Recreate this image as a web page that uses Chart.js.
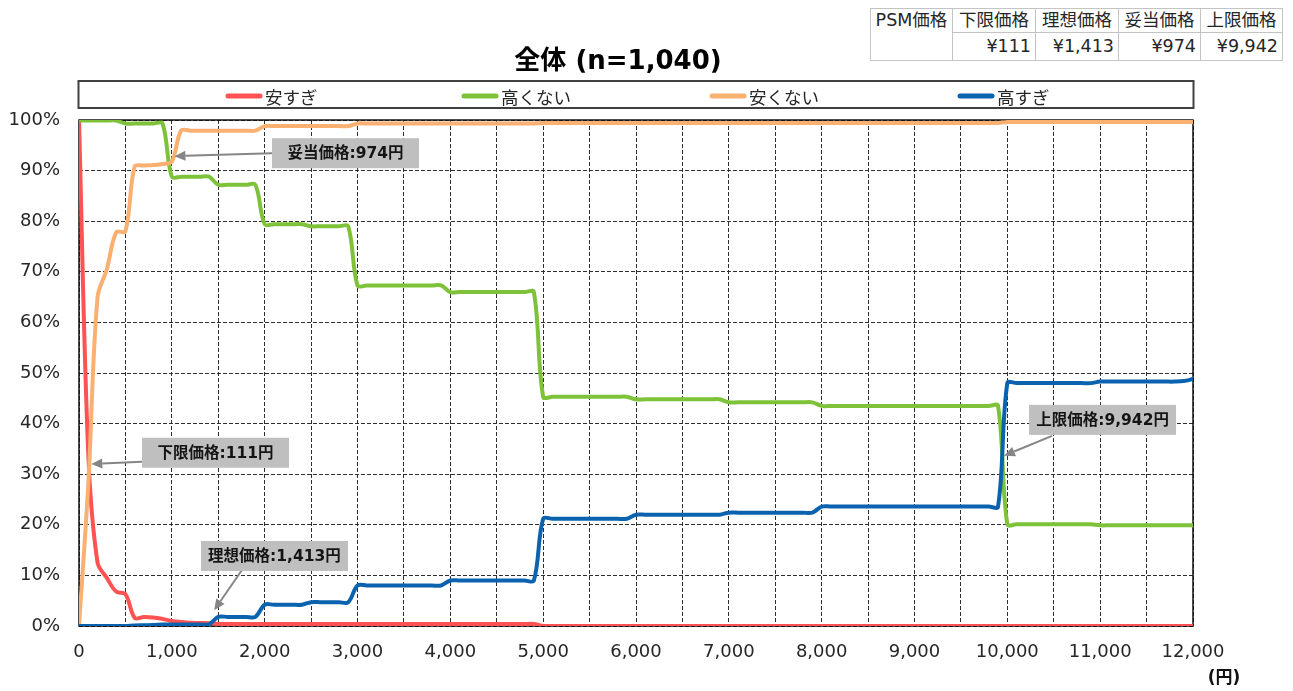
<!DOCTYPE html>
<html lang="ja">
<head>
<meta charset="utf-8">
<title>PSM分析 全体 (n=1,040)</title>
<script src="https://cdn.jsdelivr.net/npm/chart.js@4.4.1/dist/chart.umd.min.js"></script>
<style>
  html, body { margin: 0; padding: 0; background: #fff; }
  #wrap { position: relative; width: 1293px; height: 691px; overflow: hidden; }
  #psm { position: absolute; left: 0; top: 0; }
  table.psm {
    position: absolute; left: 870px; top: 8px;
    border-collapse: collapse; table-layout: fixed; width: 412px;
    font: 17.5px "DejaVu Sans", "Noto Sans CJK JP", sans-serif; color: #262626;
    background: #fff;
  }
  table.psm td { border: 1px solid #c4c4c4; padding: 0 4px; white-space: nowrap; overflow: hidden; }
  table.psm tr.head td { height: 23px; line-height: 23px; text-align: center; }
  table.psm tr.vals td { height: 27px; line-height: 27px; text-align: right; }
  table.psm td.corner { vertical-align: top; text-align: center; line-height: 23px; }
</style>
</head>
<body>
<div id="wrap">
  <canvas id="psm" width="1293" height="691"></canvas>
  <table class="psm" id="psmTable"></table>
</div>
<script>
// Survey price steps (円)
const prices = [
  0, 100, 200, 300, 400, 500, 600, 700, 800, 900,
  1000, 1100, 1200, 1300, 1400, 1500, 1600, 1700, 1800, 1900,
  2000, 2100, 2200, 2300, 2400, 2500, 2600, 2700, 2800, 2900,
  3000, 3100, 3200, 3300, 3400, 3500, 3600, 3700, 3800, 3900,
  4000, 4100, 4200, 4300, 4400, 4500, 4600, 4700, 4800, 4900,
  5000, 5100, 5200, 5300, 5400, 5500, 5600, 5700, 5800, 5900,
  6000, 6100, 6200, 6300, 6400, 6500, 6600, 6700, 6800, 6900,
  7000, 7100, 7200, 7300, 7400, 7500, 7600, 7700, 7800, 7900,
  8000, 8100, 8200, 8300, 8400, 8500, 8600, 8700, 8800, 8900,
  9000, 9100, 9200, 9300, 9400, 9500, 9600, 9700, 9800, 9900,
  10000, 10100, 10200, 10300, 10400, 10500, 10600, 10700, 10800, 10900,
  11000, 11100, 11200, 11300, 11400, 11500, 11600, 11700, 11800, 11900,
  12000
];

// Cumulative share of respondents (%) per price step
const tooCheap = [
  100, 34, 12.5, 9.5, 6.8, 6.3, 1.6, 1.8, 1.7, 1.4,
  1.0, 0.8, 0.65, 0.6, 0.55, 0.4, 0.4, 0.4, 0.4, 0.4,
  0.4, 0.4, 0.4, 0.4, 0.4, 0.4, 0.4, 0.4, 0.4, 0.4,
  0.4, 0.4, 0.4, 0.4, 0.4, 0.4, 0.4, 0.4, 0.4, 0.4,
  0.4, 0.4, 0.4, 0.4, 0.4, 0.4, 0.4, 0.4, 0.4, 0.4,
  0, 0, 0, 0, 0, 0, 0, 0, 0, 0,
  0, 0, 0, 0, 0, 0, 0, 0, 0, 0,
  0, 0, 0, 0, 0, 0, 0, 0, 0, 0,
  0, 0, 0, 0, 0, 0, 0, 0, 0, 0,
  0, 0, 0, 0, 0, 0, 0, 0, 0, 0,
  0, 0, 0, 0, 0, 0, 0, 0, 0, 0,
  0, 0, 0, 0, 0, 0, 0, 0, 0, 0,
  0
];
const notExpensive = [
  99.9, 99.9, 99.9, 99.9, 99.9, 99.3, 99.3, 99.3, 99.3, 99.3,
  88.8, 88.8, 88.8, 88.8, 88.8, 87.2, 87.2, 87.2, 87.2, 87.2,
  79.4, 79.4, 79.4, 79.4, 79.4, 79.0, 79.0, 79.0, 79.0, 79.0,
  67.3, 67.3, 67.3, 67.3, 67.3, 67.3, 67.3, 67.3, 67.3, 67.3,
  66.0, 66.0, 66.0, 66.0, 66.0, 66.0, 66.0, 66.0, 66.0, 66.0,
  45.3, 45.3, 45.3, 45.3, 45.3, 45.3, 45.3, 45.3, 45.3, 45.3,
  44.8, 44.8, 44.8, 44.8, 44.8, 44.8, 44.8, 44.8, 44.8, 44.8,
  44.2, 44.2, 44.2, 44.2, 44.2, 44.2, 44.2, 44.2, 44.2, 44.2,
  43.5, 43.5, 43.5, 43.5, 43.5, 43.5, 43.5, 43.5, 43.5, 43.5,
  43.5, 43.5, 43.5, 43.5, 43.5, 43.5, 43.5, 43.5, 43.5, 43.5,
  20.1, 20.1, 20.1, 20.1, 20.1, 20.1, 20.1, 20.1, 20.1, 20.1,
  19.9, 19.9, 19.9, 19.9, 19.9, 19.9, 19.9, 19.9, 19.9, 19.9,
  19.9
];
const notCheap = [
  0, 28, 65, 70.5, 77.8, 78.0, 90.8, 91.0, 91.1, 91.3,
  91.8, 97.9, 97.9, 97.9, 97.9, 97.9, 97.9, 97.9, 97.9, 97.9,
  98.8, 98.8, 98.8, 98.8, 98.8, 98.8, 98.8, 98.8, 98.8, 98.8,
  99.3, 99.3, 99.3, 99.3, 99.3, 99.3, 99.3, 99.3, 99.3, 99.3,
  99.3, 99.3, 99.3, 99.3, 99.3, 99.3, 99.3, 99.3, 99.3, 99.3,
  99.4, 99.4, 99.4, 99.4, 99.4, 99.4, 99.4, 99.4, 99.4, 99.4,
  99.4, 99.4, 99.4, 99.4, 99.4, 99.4, 99.4, 99.4, 99.4, 99.4,
  99.4, 99.4, 99.4, 99.4, 99.4, 99.4, 99.4, 99.4, 99.4, 99.4,
  99.4, 99.4, 99.4, 99.4, 99.4, 99.4, 99.4, 99.4, 99.4, 99.4,
  99.4, 99.4, 99.4, 99.4, 99.4, 99.4, 99.4, 99.4, 99.4, 99.4,
  99.6, 99.6, 99.6, 99.6, 99.6, 99.6, 99.6, 99.6, 99.6, 99.6,
  99.6, 99.6, 99.6, 99.6, 99.6, 99.6, 99.6, 99.6, 99.6, 99.6,
  99.6
];
const tooExpensive = [
  0, 0, 0, 0, 0, 0, 0.1, 0.15, 0.2, 0.3,
  0.3, 0.3, 0.3, 0.3, 0.34, 1.8, 1.8, 1.8, 1.8, 1.8,
  4.2, 4.2, 4.2, 4.2, 4.2, 4.7, 4.7, 4.7, 4.7, 4.7,
  8.0, 8.0, 8.0, 8.0, 8.0, 8.0, 8.0, 8.0, 8.0, 8.0,
  9.0, 9.0, 9.0, 9.0, 9.0, 9.0, 9.0, 9.0, 9.0, 9.0,
  21.2, 21.2, 21.2, 21.2, 21.2, 21.2, 21.2, 21.2, 21.2, 21.2,
  22.0, 22.0, 22.0, 22.0, 22.0, 22.0, 22.0, 22.0, 22.0, 22.0,
  22.4, 22.4, 22.4, 22.4, 22.4, 22.4, 22.4, 22.4, 22.4, 22.4,
  23.6, 23.6, 23.6, 23.6, 23.6, 23.6, 23.6, 23.6, 23.6, 23.6,
  23.6, 23.6, 23.6, 23.6, 23.6, 23.6, 23.6, 23.6, 23.6, 23.6,
  48.0, 48.0, 48.0, 48.0, 48.0, 48.0, 48.0, 48.0, 48.0, 48.0,
  48.3, 48.3, 48.3, 48.3, 48.3, 48.3, 48.3, 48.3, 48.3, 48.4,
  48.8
];

const seriesNames = ['安すぎ', '高くない', '安くない', '高すぎ'];
const seriesValues = [tooCheap, notExpensive, notCheap, tooExpensive];

// PSM result prices
const psmNames = ['下限価格', '理想価格', '妥当価格', '上限価格'];
const psmValues = [111, 1413, 974, 9942];

const chartTitle = '全体 (n=1,040)';
const xUnit = '(円)';

// ---- styling ----
const lineColors = ['#FF5252', '#7DC238', '#F9B070', '#0B63B0'];
const fontFamily = '"DejaVu Sans", "Noto Sans CJK JP", sans-serif';
const cjkFamily = '"Noto Sans CJK JP", "DejaVu Sans", sans-serif';
const fmt = v => v.toLocaleString('en-US');

// Summary table
(function buildTable() {
  const t = document.getElementById('psmTable');
  const colW = [82, 83, 83, 82, 82];
  let html = '<colgroup>' + colW.map(w => `<col style="width:${w}px">`).join('') + '</colgroup>';
  html += '<tr class="head"><td class="corner" rowspan="2">PSM価格</td>' +
    psmNames.map(n => `<td>${n}</td>`).join('') + '</tr>';
  html += '<tr class="vals">' + psmValues.map(v => `<td>¥${fmt(v)}</td>`).join('') + '</tr>';
  t.innerHTML = html;
})();

// Linear read of a series at a given price
function valueAt(series, price) {
  for (let i = 0; i < prices.length - 1; i++) {
    if (price >= prices[i] && price <= prices[i + 1]) {
      const f = (price - prices[i]) / (prices[i + 1] - prices[i]);
      return series[i] + (series[i + 1] - series[i]) * f;
    }
  }
  return series[series.length - 1];
}

// Callouts: the arrow points at the stated PSM price on the curve it is read from
const callouts = [
  { idx: 0, series: tooCheap,     box: { price: 679,   pct: 37.2 }, start: [0, 24],  tip: [2, -2] },
  { idx: 1, series: tooExpensive, box: { price: 1314,  pct: 16.8 }, start: [41, 29], tip: [4, -13] },
  { idx: 2, series: notCheap,     box: { price: 2079,  pct: 96.4 }, start: [0, 15],  tip: [5, -6] },
  { idx: 3, series: tooExpensive, box: { price: 10234, pct: 43.7 }, start: [23, 31], tip: [2, 1] }
];

function drawArrow(ctx, x0, y0, x1, y1) {
  const ang = Math.atan2(y1 - y0, x1 - x0);
  const len = 11, hw = 5;
  const bx = x1 - len * Math.cos(ang), by = y1 - len * Math.sin(ang);
  ctx.beginPath();
  ctx.moveTo(x0, y0);
  ctx.lineTo(bx, by);
  ctx.stroke();
  ctx.beginPath();
  ctx.moveTo(x1, y1);
  ctx.lineTo(bx + hw * Math.sin(ang), by - hw * Math.cos(ang));
  ctx.lineTo(bx - hw * Math.sin(ang), by + hw * Math.cos(ang));
  ctx.closePath();
  ctx.fill();
}

const psmOverlay = {
  id: 'psmOverlay',
  beforeDatasetsDraw(chart) {
    const { ctx, chartArea: a } = chart;
    ctx.save();
    ctx.strokeStyle = '#111';
    ctx.lineWidth = 1.5;
    ctx.strokeRect(a.left, a.top, a.right - a.left, a.bottom - a.top);
    ctx.restore();
  },
  afterDatasetsDraw(chart) {
    const { ctx, scales: { x, y } } = chart;
    const boxW = 147, boxH = 30;
    ctx.save();
    callouts.forEach(c => {
      const price = psmValues[c.idx];
      const label = `${psmNames[c.idx]}:${fmt(price)}円`;
      const bx = x.getPixelForValue(c.box.price);
      const by = y.getPixelForValue(c.box.pct);
      const tx = x.getPixelForValue(price) + c.tip[0];
      const ty = y.getPixelForValue(valueAt(c.series, price)) + c.tip[1];
      ctx.strokeStyle = '#868686';
      ctx.fillStyle = '#868686';
      ctx.lineWidth = 2;
      drawArrow(ctx, bx + c.start[0], by + c.start[1], tx, ty);
      ctx.fillStyle = '#bfbfbf';
      ctx.fillRect(bx, by, boxW, boxH);
      ctx.fillStyle = '#141414';
      ctx.font = 'bold 15.5px ' + fontFamily;
      ctx.textAlign = 'center';
      ctx.textBaseline = 'middle';
      ctx.fillText(label, bx + boxW / 2, by + boxH / 2 + 1);
    });
    ctx.restore();
  },
  afterDraw(chart) {
    const { ctx, chartArea: a } = chart;
    ctx.save();
    // title
    ctx.fillStyle = '#000';
    ctx.font = 'bold 26px ' + fontFamily;
    ctx.textAlign = 'center';
    ctx.textBaseline = 'middle';
    ctx.fillText(chartTitle, 618, 62);
    // legend
    ctx.strokeStyle = '#404040';
    ctx.lineWidth = 2;
    ctx.strokeRect(a.left - 0.5, 81, a.right - a.left + 1, 27);
    const itemX = [226, 462, 710, 958];
    ctx.font = '17.5px ' + cjkFamily;
    ctx.textAlign = 'left';
    seriesNames.forEach((name, i) => {
      ctx.strokeStyle = lineColors[i];
      ctx.lineWidth = 5;
      ctx.lineCap = 'round';
      ctx.beginPath();
      ctx.moveTo(itemX[i] + 2, 96);
      ctx.lineTo(itemX[i] + 34, 96);
      ctx.stroke();
      ctx.fillStyle = '#262626';
      ctx.fillText(name, itemX[i] + 39, 97);
    });
    // unit
    ctx.font = 'bold 17px ' + fontFamily;
    ctx.textAlign = 'center';
    ctx.fillStyle = '#111';
    ctx.fillText(xUnit, a.right + 31, a.bottom + 53);
    ctx.restore();
  }
};

const datasets = seriesValues.map((vals, i) => ({
  label: seriesNames[i],
  data: prices.map((p, j) => ({ x: p, y: vals[j] })),
  borderColor: lineColors[i],
  backgroundColor: lineColors[i],
  borderWidth: 4,
  pointRadius: 0,
  tension: 0.35,
  fill: false,
  order: seriesNames.length - i
}));

new Chart(document.getElementById('psm'), {
  type: 'line',
  data: { datasets },
  plugins: [psmOverlay],
  options: {
    responsive: false,
    animation: false,
    events: [],
    layout: { padding: { top: 120, right: 100, bottom: 0, left: 0 } },
    plugins: {
      legend: { display: false },
      title: { display: false },
      tooltip: { enabled: false }
    },
    scales: {
      x: {
        type: 'linear',
        min: 0,
        max: 12000,
        afterFit: s => { s.height = 65; },
        border: { display: false, dash: [4, 2] },
        grid: { color: '#2e2e2e', lineWidth: 1, drawTicks: false },
        ticks: {
          stepSize: 500,
          autoSkip: false,
          maxRotation: 0,
          minRotation: 0,
          padding: 16,
          color: '#262626',
          font: { family: fontFamily, size: 18 },
          callback: v => (v % 1000 === 0 ? fmt(v) : '')
        }
      },
      y: {
        min: 0,
        max: 100,
        afterFit: s => { s.width = 79; },
        border: { display: false, dash: [4, 2] },
        grid: { color: '#2e2e2e', lineWidth: 1, drawTicks: false },
        ticks: {
          stepSize: 10,
          padding: 19,
          color: '#262626',
          font: { family: fontFamily, size: 18 },
          callback: v => v + '%'
        }
      }
    }
  }
});
</script>
</body>
</html>
